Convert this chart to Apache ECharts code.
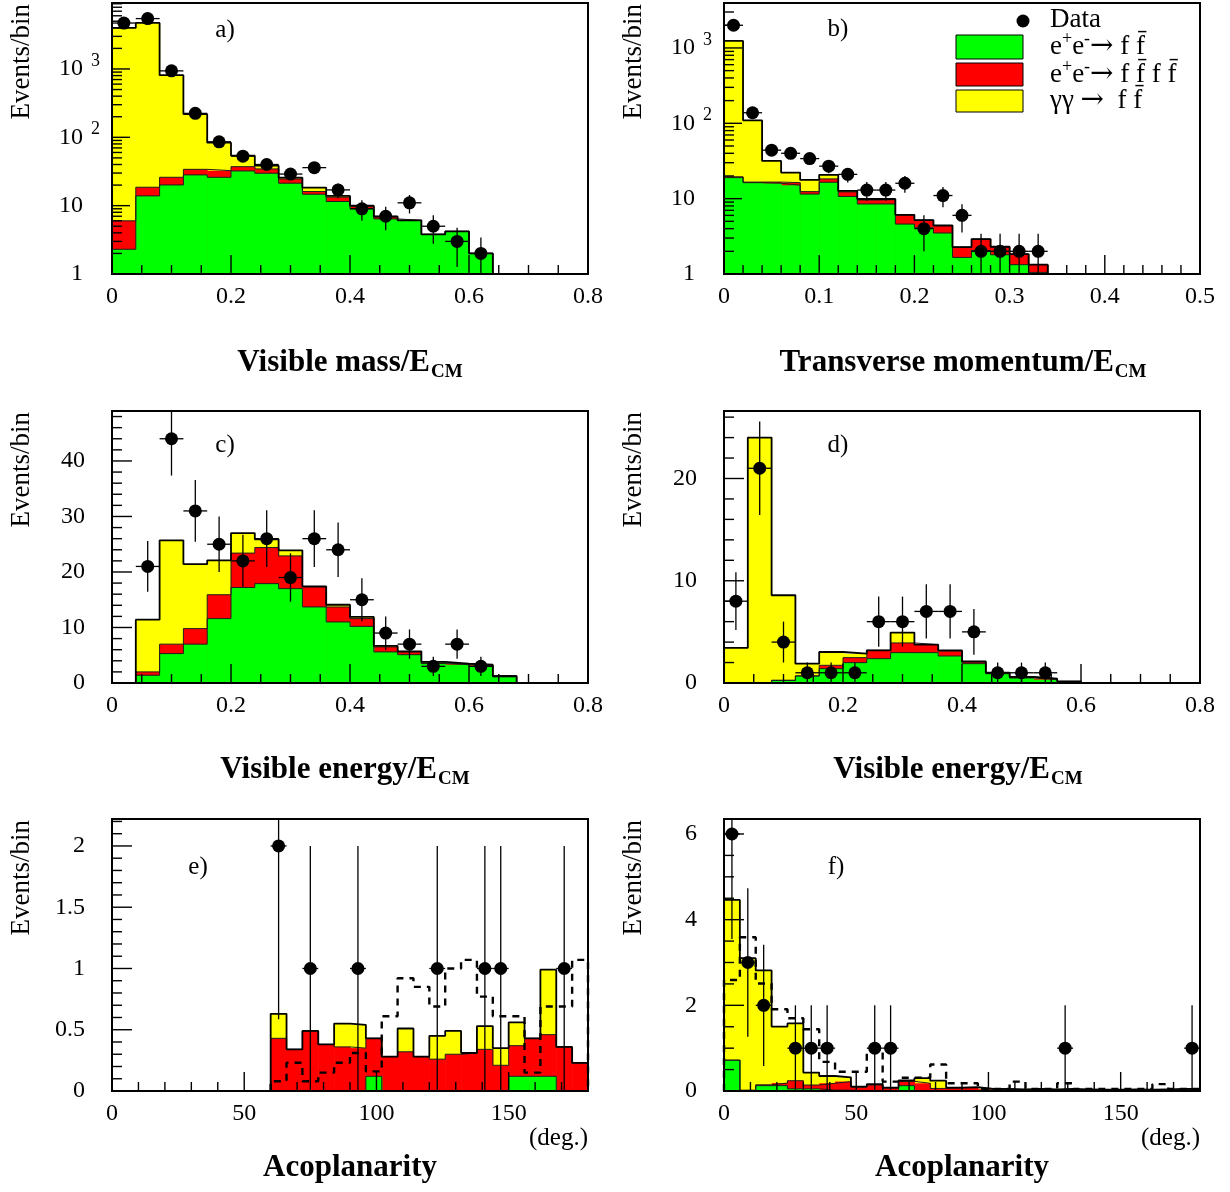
<!DOCTYPE html>
<html><head><meta charset="utf-8">
<script src="https://cdn.jsdelivr.net/npm/echarts@6/dist/echarts.min.js"></script>
<style>html,body{margin:0;padding:0;background:#fff}#c{width:1230px;height:1192px}</style>
</head><body><div id="c"></div>
<script>
// ---------------- data ----------------
// a) Visible mass / E_CM  (bins of 0.04 from 0)
const aBin = [0, 0.04];
const aGreen  = [2.3, 13.9, 20.1, 28.2, 26.0, 32.2, 29.8, 21.3, 14.7, 11.5, 9.0, 6.4, 6.1, 3.8, 4.2, 2.0];
const aRed    = [3.7, 4.7, 5.9, 5.8, 6.5, 5.0, 4.7, 3.3, 1.4, 1.8, 0.7, 0.5, 0, 0, 0, 0];
const aYellow = [3974, 4691, 786, 185, 51, 16.7, 4.0, 1.1, 2.3, 0.6, 0.3, 0, 0, 0, 0, 0];
const aDataX  = [0.02, 0.06, 0.10, 0.14, 0.18, 0.22, 0.26, 0.30, 0.34, 0.38, 0.42, 0.46, 0.50, 0.54, 0.58, 0.62];
const aDataY  = [4700, 5460, 938, 224, 86, 53, 40, 29, 36, 17, 9, 7, 11, 5, 3, 2];

// b) Transverse momentum / E_CM (bins of 0.02 from 0)
const bBin = [0, 0.02];
const bGreen  = [19, 16.3, 16, 15.1, 11.5, 16.5, 10.7, 8.5, 8.5, 4.6, 4.1, 3.5, 1.66, 2.05, 1.8, 1.33, 1.05];
const bRed    = [0.5, 0.3, 0.6, 1.2, 0.9, 1.8, 1.6, 1.1, 1.2, 1.5, 1.1, 0.9, 0.62, 0.86, 0.5, 0.51, 0.28];
const bYellow = [1220, 93, 15.1, 5.9, 5.3, 2.4, 0.4, 0.3, 0.2, 0, 0, 0, 0, 0, 0, 0, 0];
const bDataX  = [0.01, 0.03, 0.05, 0.07, 0.09, 0.11, 0.13, 0.15, 0.17, 0.19, 0.21, 0.23, 0.25, 0.27, 0.29, 0.31, 0.33];
const bDataY  = [2000, 138, 44, 40, 34, 27, 21, 13, 13, 16, 4, 11, 6, 2, 2, 2, 2];

// c) Visible energy / E_CM (bins of 0.04 from 0)
const cBin = [0, 0.04];
const cGreen  = [0, 1.4, 5.3, 7.0, 11.6, 17.2, 17.9, 17.0, 13.7, 11.0, 10.2, 5.6, 5.1, 3.5, 3.3, 3.1, 1.1];
const cRed    = [0, 0.6, 1.7, 2.8, 4.3, 6.2, 6.5, 5.9, 3.6, 2.7, 1.4, 0.9, 0.5, 0.1, 0.1, 0.1, 0.1];
const cYellow = [0, 9.4, 18.7, 11.6, 6.2, 3.6, 1.5, 1.0, 0.1, 0.4, 0.3, 0.2, 0.1, 0.2, 0.1, 0.1, 0.06];
const cDataX  = [0.06, 0.10, 0.14, 0.18, 0.22, 0.26, 0.30, 0.34, 0.38, 0.42, 0.46, 0.50, 0.54, 0.58, 0.62];
const cDataY  = [21, 44, 31, 25, 22, 26, 19, 26, 24, 15, 9, 7, 3, 7, 3];

// d) Visible energy / E_CM (bins of 0.04 from 0)
const dBin = [0, 0.04];
const dGreen  = [0, 0, 0.26, 0.69, 1.40, 1.99, 2.38, 2.97, 2.97, 2.64, 1.89, 0.91, 0.49, 0.33, 0.13];
const dRed    = [0, 0, 0, 0, 0.33, 0.49, 0.82, 0.95, 0.78, 0.49, 0.17, 0.10, 0.10, 0.09, 0.03];
const dYellow = [3.43, 24.0, 8.32, 1.20, 1.30, 0.39, 0, 1.01, 0, 0.07, 0.06, 0, 0, 0, 0];
const dDataX  = [0.02, 0.06, 0.10, 0.14, 0.18, 0.22, 0.26, 0.30, 0.34, 0.38, 0.42, 0.46, 0.50, 0.54];
const dDataY  = [8, 21, 4, 1, 1, 1, 6, 6, 7, 7, 5, 1, 1, 1];

// e) Acoplanarity (bins of 6 deg from 60)
const eBin = [60, 6];
const eGreen  = [0, 0, 0, 0, 0, 0, 0.12, 0, 0, 0, 0, 0, 0, 0, 0, 0.12, 0.12, 0.12, 0, 0];
const eRed    = [0.43, 0.34, 0.49, 0.38, 0.36, 0.35, 0.31, 0.28, 0.32, 0.28, 0.26, 0.30, 0.31, 0.34, 0.21, 0.25, 0.31, 0.34, 0.36, 0.23];
const eYellow = [0.20, 0, 0, 0, 0.19, 0.19, 0, 0, 0.19, 0, 0.19, 0.19, 0, 0.19, 0.14, 0.19, 0, 0.53, 0, 0];
const eSignal = [0.08, 0.23, 0.08, 0.15, 0.23, 0.31, 0.16, 0.61, 0.92, 0.85, 0.69, 1.0, 1.07, 0.77, 0.61, 0.61, 0.15, 0.69, 0.69, 1.07];
const eDataX  = [63, 75, 93, 123, 141, 147, 171];
const eDataY  = [2, 1, 1, 1, 1, 1, 1];

// f) Acoplanarity (bins of 6 deg from 0)
const fBin = [0, 6];
const fGreen  = [0.72, 0, 0.125, 0.125, 0.05, 0.05, 0.02, 0.02, 0, 0, 0, 0.125, 0, 0, 0, 0, 0, 0, 0, 0, 0, 0, 0, 0, 0, 0, 0, 0, 0, 0];
const fRed    = [0, 0.02, 0.02, 0.06, 0.19, 0.09, 0.16, 0.20, 0.09, 0.14, 0.07, 0.10, 0.18, 0.06, 0.07, 0.08, 0.04, 0.04, 0.03, 0.04, 0.03, 0.04, 0.03, 0.02, 0.02, 0.03, 0.02, 0.03, 0.04, 0.04];
const fYellow = [3.74, 3.08, 2.67, 1.32, 1.34, 0.29, 0.17, 0.10, 0.01, 0.02, 0.01, 0.02, 0.12, 0.18, 0.01, 0.01, 0.01, 0.01, 0.01, 0.01, 0.01, 0.01, 0.01, 0.01, 0.01, 0.01, 0.01, 0.01, 0.01, 0.01];
const fSignal = [2.59, 3.59, 2.51, 1.91, 1.70, 1.44, 0.68, 0.45, 0.45, 0.92, 0.22, 0.31, 0.31, 0.62, 0.18, 0.18, 0.05, 0.05, 0.22, 0.05, 0.05, 0.18, 0.05, 0.05, 0.05, 0.05, 0.05, 0.16, 0.05, 0.05];
const fDataX  = [3, 9, 15, 27, 33, 39, 57, 63, 129, 177];
const fDataY  = [6, 3, 2, 1, 1, 1, 1, 1, 1, 1];

// axis tick labels (major steps) per panel
const xLabelsAD = [0, 0.2, 0.4, 0.6, 0.8];
const xLabelsB  = [0, 0.1, 0.2, 0.3, 0.4, 0.5];
const xLabelsEF = [0, 50, 100, 150];
const yLabelsLog = [1, 10, 100, 1000];
const yLabelsC = [0, 10, 20, 30, 40];
const yLabelsD = [0, 10, 20];
const yLabelsE = [0, 0.5, 1, 1.5, 2];
const yLabelsF = [0, 2, 4, 6];

// ---------------- styling / layout ----------------
const FONT = '"Liberation Serif", "Times New Roman", serif';
const GREEN = '#00ff00', RED = '#ff0000', YELLOW = '#ffff00';

const panels = [
  {gx:112, gy:3,   gh:271, x:[0,0.8], xMaj:0.2, xMin:0.05, xl:xLabelsAD, log:true, y:[1,9230], yl:yLabelsLog,
   bin:aBin, g:aGreen, r:aRed, yw:aYellow, px:aDataX, py:aDataY, sig:null},
  {gx:724, gy:3,   gh:271, x:[0,0.5], xMaj:0.1, xMin:0.02, xl:xLabelsB, log:true, y:[1,3950], yl:yLabelsLog,
   bin:bBin, g:bGreen, r:bRed, yw:bYellow, px:bDataX, py:bDataY, sig:null},
  {gx:112, gy:411, gh:272, x:[0,0.8], xMaj:0.2, xMin:0.05, xl:xLabelsAD, log:false, y:[0,49], yMaj:10, yMin:2, yl:yLabelsC,
   bin:cBin, g:cGreen, r:cRed, yw:cYellow, px:cDataX, py:cDataY, sig:null},
  {gx:724, gy:411, gh:272, x:[0,0.8], xMaj:0.2, xMin:0.05, xl:xLabelsAD, log:false, y:[0,26.6], yMaj:10, yMin:2, yl:yLabelsD,
   bin:dBin, g:dGreen, r:dRed, yw:dYellow, px:dDataX, py:dDataY, sig:null},
  {gx:112, gy:819, gh:272, x:[0,180], xMaj:50, xMin:10, xl:xLabelsEF, log:false, y:[0,2.22], yMaj:0.5, yMin:0.1, yl:yLabelsE,
   bin:eBin, g:eGreen, r:eRed, yw:eYellow, px:eDataX, py:eDataY, sig:eSignal},
  {gx:724, gy:819, gh:272, x:[0,180], xMaj:50, xMin:10, xl:xLabelsEF, log:false, y:[0,6.35], yMaj:2, yMin:0.5, yl:yLabelsF,
   bin:fBin, g:fGreen, r:fRed, yw:fYellow, px:fDataX, py:fDataY, sig:fSignal}
];

const option = {animation:false, backgroundColor:'#fff', grid:[], xAxis:[], yAxis:[], series:[], graphic:[]};

function near(a, b) { return Math.abs(a - b) < 1e-7; }

panels.forEach((P, gi) => {
  const base = P.log ? P.y[0] : 0;
  option.grid.push({left:P.gx, top:P.gy, width:476, height:P.gh, show:false, containLabel:false, outerBoundsMode:'none'});
  option.xAxis.push({
    gridIndex:gi, type:'value', min:P.x[0], max:P.x[1], interval:P.xMaj,
    axisLine:{show:false}, axisTick:{show:false}, splitLine:{show:false},
    axisLabel:{color:'#000', fontFamily:FONT, fontSize:24, margin:11, hideOverlap:false,
      showMinLabel:true, showMaxLabel: P.xl.some(v => near(v, P.x[1])),
      formatter: v => { const m = P.xl.find(t => near(t, v)); return m === undefined ? '' : String(m); }}
  });
  if (P.log) {
    option.yAxis.push({
      gridIndex:gi, type:'log', logBase:10, min:P.y[0], max:P.y[1],
      axisLine:{show:false}, axisTick:{show:false}, splitLine:{show:false}, minorTick:{show:false},
      axisLabel:{margin:12, showMaxLabel:false, hideOverlap:false,
        formatter: v => {
          const e = Math.round(Math.log10(v));
          if (!P.yl.some(t => near(Math.log10(t), e))) return '';
          if (e === 0) return '{b|1}{p| }';
          if (e === 1) return '{b|10}{p| }';
          return '{b|10}{s|' + e + '}';
        },
        rich:{
          b:{fontFamily:FONT, fontSize:24, color:'#000'},
          s:{fontFamily:FONT, fontSize:18, color:'#000', padding:[0,0,16,8]},
          p:{fontFamily:FONT, fontSize:18, width:17}
        }}
    });
  } else {
    option.yAxis.push({
      gridIndex:gi, type:'value', min:P.y[0], max:P.y[1], interval:P.yMaj,
      axisLine:{show:false}, axisTick:{show:false}, splitLine:{show:false},
      axisLabel:{color:'#000', fontFamily:FONT, fontSize:24, margin:27, showMaxLabel:false, hideOverlap:false,
        formatter: v => { const m = P.yl.find(t => near(t, v)); return m === undefined ? '' : String(m); }}
    });
  }

  // stacked MC levels
  const lvGreen = P.g.slice();
  const lvRed = P.g.map((v, i) => v + P.r[i]);
  const lvTot = lvRed.map((v, i) => v + P.yw[i]);
  const start = P.bin[0], w = P.bin[1];

  function fill(tops, color) {
    return {
      type:'custom', xAxisIndex:gi, yAxisIndex:gi, silent:true, clip:true, z:2,
      encode:{x:0, y:1},
      data: tops.map((v, i) => [start + i * w, Math.max(v, base), start + (i + 1) * w]),
      renderItem:(params, api) => {
        const v = api.value(1);
        if (!(v > base)) return null;
        const a = api.coord([api.value(0), v]);
        const b = api.coord([api.value(2), base]);
        return {type:'rect', shape:{x:a[0], y:a[1], width:b[0] - a[0] + 0.6, height:b[1] - a[1]}, style:{fill:color}};
      }
    };
  }
  function outline(tops, color, width, dash) {
    const pts = [[start, base]];
    tops.forEach((v, i) => {
      const t = Math.max(v, base);
      pts.push([start + i * w, t], [start + (i + 1) * w, t]);
    });
    pts.push([start + tops.length * w, base]);
    return {type:'line', xAxisIndex:gi, yAxisIndex:gi, data:pts, symbol:'none', silent:true, z:3,
      lineStyle:{color:color, width:width, type: dash || 'solid', opacity:1}};
  }

  option.series.push(fill(lvTot, YELLOW), fill(lvRed, RED), fill(lvGreen, GREEN));
  option.series.push(outline(lvGreen, '#1e1e1e', 1), outline(lvRed, '#1e1e1e', 1), outline(lvTot, '#000', 1.8));
  if (P.sig) option.series.push(outline(P.sig, '#000', 2.4, [7, 6]));

  // data error bars
  const hw = w / 2;
  option.series.push({
    type:'custom', xAxisIndex:gi, yAxisIndex:gi, silent:true, clip:true, z:4,
    encode:{x:0, y:1},
    data: P.px.map((x, i) => {
      const y = P.py[i], e = Math.sqrt(y);
      return [x, y, Math.max(y - e, base), y + e];
    }),
    renderItem:(params, api) => {
      const x = api.value(0), y = api.value(1);
      const lo = api.coord([x, api.value(2)]), hi = api.coord([x, api.value(3)]);
      const l = api.coord([x - hw, y]), r = api.coord([x + hw, y]);
      const st = {stroke:'#000', lineWidth:1.3};
      return {type:'group', children:[
        {type:'line', shape:{x1:lo[0], y1:lo[1], x2:hi[0], y2:hi[1]}, style:st},
        {type:'line', shape:{x1:l[0], y1:l[1], x2:r[0], y2:r[1]}, style:st}
      ]};
    }
  });
  option.series.push({
    type:'scatter', xAxisIndex:gi, yAxisIndex:gi, silent:true, z:5,
    symbol:'circle', symbolSize:13, itemStyle:{color:'#000', opacity:1},
    data: P.px.map((x, i) => [x, P.py[i]])
  });

  // ticks (inside, bottom and left) + frame
  const tk = [];
  const nx = Math.round((P.x[1] - P.x[0]) / P.xMin);
  for (let k = 0; k <= nx; k++) {
    const v = P.x[0] + k * P.xMin;
    const maj = near(v / P.xMaj, Math.round(v / P.xMaj));
    tk.push([v, base, maj ? 19 : 9, 0]);
  }
  if (P.log) {
    for (let d = 0; d < 5; d++) for (let m = 1; m <= 9; m++) {
      const v = m * Math.pow(10, d);
      if (v < P.y[1]) tk.push([P.x[0], v, m === 1 ? 18 : 10, 1]);
    }
  } else {
    const ny = Math.floor((P.y[1] - P.y[0]) / P.yMin + 1e-6);
    for (let k = 0; k <= ny; k++) {
      const v = P.y[0] + k * P.yMin;
      const maj = near(v / P.yMaj, Math.round(v / P.yMaj));
      tk.push([P.x[0], v, maj ? 20 : 10, 1]);
    }
  }
  tk.push([P.x[0], base, 0, 2]);
  option.series.push({
    type:'custom', xAxisIndex:gi, yAxisIndex:gi, silent:true, clip:false, z:10,
    encode:{x:0, y:1}, data:tk,
    renderItem:(params, api) => {
      const kind = api.value(3), len = api.value(2);
      const st = {stroke:'#000', lineWidth:1.4};
      if (kind === 0) {
        const p = api.coord([api.value(0), base]);
        return {type:'line', shape:{x1:p[0], y1:p[1], x2:p[0], y2:p[1] - len}, style:st};
      }
      if (kind === 1) {
        const p = api.coord([P.x[0], api.value(1)]);
        return {type:'line', shape:{x1:p[0], y1:p[1], x2:p[0] + len, y2:p[1]}, style:st};
      }
      const a = api.coord([P.x[0], base]), b = api.coord([P.x[1], P.y[1]]);
      return {type:'rect', shape:{x:a[0], y:b[1], width:b[0] - a[0], height:a[1] - b[1]},
        style:{fill:null, stroke:'#000', lineWidth:2}};
    }
  });
});

// ---------------- texts ----------------
function txt(x, y, text, size, opts) {
  return Object.assign({type:'text', x:x, y:y, silent:true, z:20,
    style:Object.assign({text:text, fontFamily:FONT, fontSize:size, fill:'#000', align:'center', verticalAlign:'middle'}, opts || {})});
}
const titleRich = {
  m:{fontFamily:FONT, fontSize:31, fontWeight:'bold', fill:'#000'},
  s:{fontFamily:FONT, fontSize:19, fontWeight:'bold', fill:'#000', padding:[18,0,0,1]}
};
const G = option.graphic;
// y-axis names
[[22,4],[634,4],[22,412],[634,412],[22,820],[634,820]].forEach(p => {
  G.push({type:'text', x:p[0], y:p[1], rotation:Math.PI/2, silent:true, z:20,
    style:{text:'Events/bin', fontFamily:FONT, fontSize:27, fill:'#000', align:'right', verticalAlign:'middle'}});
});
// x-axis titles
G.push(txt(350, 363, '{m|Visible mass/E}{s|CM}', 31, {rich:titleRich}));
G.push(txt(963, 363, '{m|Transverse momentum/E}{s|CM}', 31, {rich:titleRich}));
G.push(txt(345, 770, '{m|Visible energy/E}{s|CM}', 31, {rich:titleRich}));
G.push(txt(958, 770, '{m|Visible energy/E}{s|CM}', 31, {rich:titleRich}));
G.push(txt(350, 1168, 'Acoplanarity', 31, {fontWeight:'bold'}));
G.push(txt(962, 1168, 'Acoplanarity', 31, {fontWeight:'bold'}));
G.push(txt(588, 1138, '(deg.)', 25, {align:'right'}));
G.push(txt(1200, 1138, '(deg.)', 25, {align:'right'}));
// panel letters
G.push(txt(225, 30, 'a)', 25), txt(838, 29, 'b)', 25), txt(225, 445, 'c)', 25),
       txt(838, 445, 'd)', 25), txt(198, 867, 'e)', 25), txt(836, 867, 'f)', 25));
// legend (panel b)
const legRich = {
  t:{fontFamily:FONT, fontSize:27, fill:'#000'},
  a:{fontFamily:'"DejaVu Serif", serif', fontSize:28, fill:'#000'},
  u:{fontFamily:FONT, fontSize:18, fill:'#000', padding:[0,0,15,0]}
};
G.push({type:'circle', shape:{cx:1023, cy:21, r:6.5}, style:{fill:'#000'}, silent:true, z:20});
G.push(txt(1050, 20, 'Data', 27, {align:'left'}));
G.push({type:'rect', shape:{x:956, y:35, width:67, height:24}, style:{fill:GREEN, stroke:'#000', lineWidth:1}, silent:true, z:20});
G.push({type:'rect', shape:{x:956, y:63, width:67, height:23}, style:{fill:RED, stroke:'#000', lineWidth:1}, silent:true, z:20});
G.push({type:'rect', shape:{x:956, y:90, width:67, height:22}, style:{fill:YELLOW, stroke:'#000', lineWidth:1}, silent:true, z:20});
G.push(txt(1050, 47, '{t|e}{u|+}{t|e}{u|-}{a|\u2192}{t| f f\u0304}', 27, {align:'left', rich:legRich}));
G.push(txt(1050, 75, '{t|e}{u|+}{t|e}{u|-}{a|\u2192}{t| f f\u0304 f f\u0304}', 27, {align:'left', rich:legRich}));
G.push(txt(1050, 101, '{t|\u03b3\u03b3 }{a|\u2192}{t|  f f\u0304}', 27, {align:'left', rich:legRich}));

const chart = echarts.init(document.getElementById('c'), null, {renderer:'canvas'});
chart.setOption(option);
</script>
</body></html>
